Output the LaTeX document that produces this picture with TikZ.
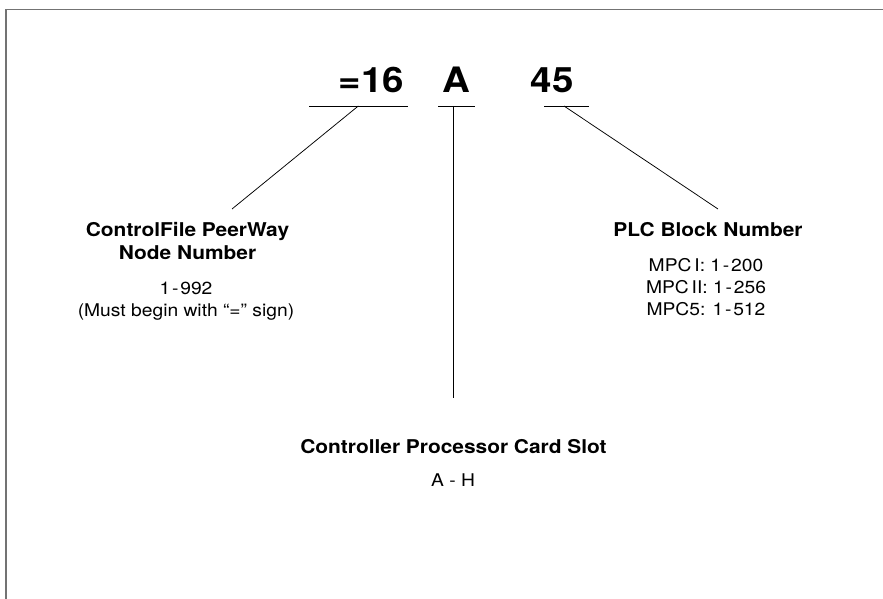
\documentclass[tikz,border=0pt]{standalone}
\usepackage{fontspec}
\setmainfont{TeX Gyre Heros}[FakeStretch=1.1]
\newcommand{\rdash}{\kern1.8pt-\kern1.8pt}
\begin{document}
\begin{tikzpicture}[x=1pt,y=-1pt,
  big/.style={font=\fontsize{35}{35}\selectfont\bfseries, inner sep=0pt, anchor=base},
  title/.style={font=\fontsize{19}{23}\selectfont\bfseries, align=center, inner sep=0pt, anchor=base},
  body/.style={font=\fontsize{17.5}{22}\selectfont, align=center, inner sep=0pt, anchor=base},
  lead/.style={line width=0.75pt},
  frame/.style={line width=1.4pt, draw=black!55}]
\useasboundingbox (0,0) rectangle (883,599);
\draw[frame] (6,599) -- (6,9.5) -- (883,9.5);
% big codes
\node[big] (n16) at (371.5,93) {=16};
\node[big] (nA) at (456.5,93) {A};
\node[big] (n45) at (552,93) {45};
% underlines
\coordinate (u1a) at (309,106); \coordinate (u1b) at (408,106);
\coordinate (u2a) at (438,106); \coordinate (u2b) at (475,106);
\coordinate (u3a) at (544,106); \coordinate (u3b) at (589,106);
\draw[lead] (u1a) -- (u1b);
\draw[lead] (u2a) -- (u2b);
\draw[lead] (u3a) -- (u3b);
% leader ends
\coordinate (s1) at (358.3,106); \coordinate (e1) at (232,209);
\coordinate (s2) at (453,106); \coordinate (e2) at (453,398);
\coordinate (s3) at (564,106); \coordinate (e3) at (718,209);
\draw[lead] (s1) -- (e1);
\draw[lead] (s2) -- (e2);
\draw[lead] (s3) -- (e3);
% labels
\node[title] (t1) at (187.5,259.5) {ControlFile PeerWay\\Node Number};
\node[body, font=\fontsize{17.5}{21.5}\selectfont] (b1) at (186,316) {1\rdash992\\(Must begin with “=” sign)};
\node[title] (t3) at (708,236) {PLC Block Number};
\node[body] (b3) at (706,315.5) {MPC\,I: 1\rdash200\\MPC\,II: 1\rdash256\\MPC5: 1\rdash512};
\node[title] (t2) at (453.5,453) {Controller Processor Card Slot};
\node[body] (b2) at (453,486) {A - H};
\end{tikzpicture}
\end{document}
